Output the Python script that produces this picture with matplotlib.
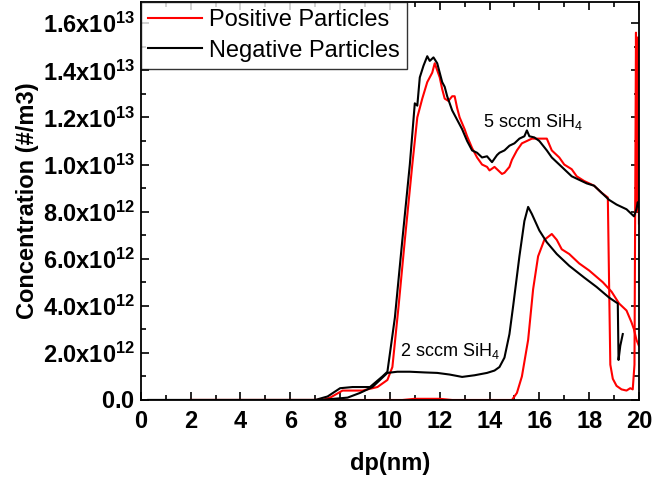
import matplotlib
matplotlib.use("Agg")
import matplotlib.pyplot as plt
from matplotlib.ticker import FixedLocator, MultipleLocator

plt.rcParams['font.family'] = ['Liberation Sans', 'DejaVu Sans']
plt.rcParams['mathtext.fontset'] = 'custom'
plt.rcParams['mathtext.rm'] = 'Liberation Sans'
plt.rcParams['mathtext.bf'] = 'Liberation Sans:bold'
plt.rcParams['mathtext.it'] = 'Liberation Sans:italic'

# values in units of 1e12 #/m3
pos5_x = [2.0, 7.3, 7.6, 8.1, 8.9, 9.5, 9.9, 10.1, 10.35, 10.6, 10.9, 11.1, 11.3, 11.5, 11.7, 11.8,
          11.9, 12.0, 12.1, 12.2, 12.35, 12.5, 12.6, 12.7, 12.8, 13.0, 13.1, 13.3, 13.5, 13.7, 13.9,
          14.0, 14.2, 14.3, 14.5, 14.6, 14.8, 14.9, 15.1, 15.3, 15.5, 15.7, 16.0, 16.3, 16.5, 16.8,
          17.0, 17.3, 17.5, 17.8, 18.2, 18.5, 18.75, 18.8, 18.85, 18.95, 19.1, 19.3, 19.5, 19.65,
          19.75, 19.82, 19.88, 19.92, 19.96, 20.0]
pos5_y = [0, 0, 0.1, 0.4, 0.4, 0.55, 0.85, 1.4, 4.0, 6.8, 10.0, 12.0, 12.8, 13.5, 13.9, 14.3,
          14.0, 13.7, 13.2, 12.8, 12.7, 12.9, 12.9, 12.4, 12.0, 11.5, 11.2, 10.7, 10.3, 10.0, 9.9,
          9.75, 9.9, 9.8, 9.6, 9.65, 9.9, 10.2, 10.6, 10.9, 11.0, 11.1, 11.1, 11.1, 10.6, 10.3,
          10.0, 9.8, 9.5, 9.3, 9.1, 8.8, 8.6, 5.0, 1.5, 0.9, 0.6, 0.45, 0.4, 0.5,
          0.45, 1.5, 15.6, 8.0, 15.4, 7.5]

neg5_x = [0.3, 7.0, 7.5, 8.0, 8.5, 9.2, 9.7, 9.9, 10.2, 10.5, 10.8, 11.0, 11.1, 11.2, 11.35, 11.5,
          11.6, 11.75, 11.9, 12.0, 12.1, 12.2, 12.3, 12.5, 12.7, 12.9, 13.1, 13.3, 13.5, 13.7,
          13.9, 14.1, 14.3, 14.4, 14.6, 14.8, 15.0, 15.2, 15.4, 15.5, 15.6, 15.8, 16.0, 16.3, 16.5,
          16.8, 17.0, 17.3, 17.6, 17.9, 18.2, 18.5, 18.8, 19.1, 19.5, 19.8, 19.9, 19.95, 20.0]
neg5_y = [0, 0, 0.15, 0.5, 0.55, 0.55, 1.0, 1.2, 3.5, 6.8, 10.0, 12.6, 12.5, 13.7, 14.2, 14.6,
          14.4, 14.55, 14.3, 13.9, 13.5, 13.3, 12.9, 12.3, 11.9, 11.5, 11.0, 10.6, 10.5, 10.3,
          10.35, 10.1, 10.4, 10.5, 10.6, 10.8, 10.9, 11.1, 11.2, 11.45, 11.2, 11.15, 11.0, 10.6, 10.3,
          10.0, 9.8, 9.5, 9.35, 9.2, 9.1, 8.8, 8.5, 8.3, 8.1, 7.8, 8.1, 8.4, 8.2]

pos2_x = [2.0, 10.5, 11.0, 12.0, 12.5, 14.9, 15.1, 15.3, 15.55, 15.75, 15.95, 16.2, 16.5, 16.7,
          16.9, 17.2, 17.6, 18.0, 18.55, 18.9, 19.2, 19.5, 19.7, 19.8, 19.9, 20.0]
pos2_y = [0, 0, 0.05, 0.05, 0, 0, 0.3, 1.0, 2.55, 4.7, 6.1, 6.8, 7.05, 6.8,
          6.4, 6.2, 5.8, 5.5, 5.0, 4.6, 4.1, 3.8, 3.3, 3.0, 2.55, 2.3]

neg2_x = [0.3, 7.2, 8.3, 8.8, 9.3, 9.6, 9.9, 10.3, 10.8, 11.4, 11.9, 12.4, 12.9, 13.4, 13.9, 14.2,
          14.4, 14.6, 14.8, 14.95, 15.2, 15.4, 15.55, 15.7, 16.0, 16.3, 16.7, 17.2, 17.8, 18.3,
          18.8, 19.15, 19.18, 19.25, 19.35]
neg2_y = [0, 0, 0.1, 0.3, 0.55, 0.85, 1.15, 1.2, 1.2, 1.17, 1.15, 1.08, 0.98, 1.05, 1.15, 1.25,
          1.4, 1.8, 2.8, 4.0, 6.1, 7.6, 8.2, 7.9, 7.2, 6.7, 6.2, 5.7, 5.2, 4.8,
          4.35, 4.1, 1.7, 2.3, 2.8]

ytick_vals = [0, 2, 4, 6, 8, 10, 12, 14, 16]
ytick_labels = ['0.0', '2.0x10^{12}', '4.0x10^{12}', '6.0x10^{12}', '8.0x10^{12}',
                '1.0x10^{13}', '1.2x10^{13}', '1.4x10^{13}', '1.6x10^{13}']

fig = plt.figure(figsize=(6.52, 4.8), dpi=100)
ax = fig.add_axes([0.216, 0.1667, 0.764, 0.829])

E = 1e12
ax.plot(pos5_x, [v * E for v in pos5_y], color='#ff0000', lw=1.5, label='Positive Particles')
ax.plot(neg5_x, [v * E for v in neg5_y], color='black', lw=1.5, label='Negative Particles')
ax.plot(pos2_x, [v * E for v in pos2_y], color='#ff0000', lw=1.5)
ax.plot(neg2_x, [v * E for v in neg2_y], color='black', lw=1.5)

ax.set_xlim(0, 20)
ax.set_ylim(0, 1.69e13)
ax.xaxis.set_major_locator(MultipleLocator(2))
ax.xaxis.set_minor_locator(MultipleLocator(1))
ax.yaxis.set_major_locator(FixedLocator([v * E for v in ytick_vals]))
ax.yaxis.set_minor_locator(MultipleLocator(1e12))
ax.set_yticklabels([r'$\mathbf{' + s + '}$' for s in ytick_labels])
ax.tick_params(which='both', direction='in', top=True, right=True, width=1.2)
ax.tick_params(which='major', length=6, labelsize=17)
ax.tick_params(axis='x', which='major', pad=7)
ax.tick_params(axis='y', which='major', pad=4)
ax.tick_params(which='minor', length=3.5)
for t in ax.get_xticklabels():
    t.set_fontweight('bold')
for s in ax.spines.values():
    s.set_linewidth(1.3)

ax.set_xlabel('dp(nm)', fontsize=17, fontweight='bold', labelpad=14)
ax.set_ylabel('Concentration (#/m3)', fontsize=17, fontweight='bold', labelpad=3)

ax.text(13.75, 1.16e13, r'5 sccm SiH$_4$', fontsize=13)
ax.text(10.4, 1.85e12, r'2 sccm SiH$_4$', fontsize=13)

leg = ax.legend(loc='upper left', fontsize=17, borderaxespad=0, frameon=True, fancybox=False,
                edgecolor='black', handlelength=2.3, handletextpad=0.3, borderpad=0.3,
                labelspacing=0.35, handleheight=0.8)
leg.get_frame().set_linewidth(1.0)

fig.savefig('out.png', dpi=100)
